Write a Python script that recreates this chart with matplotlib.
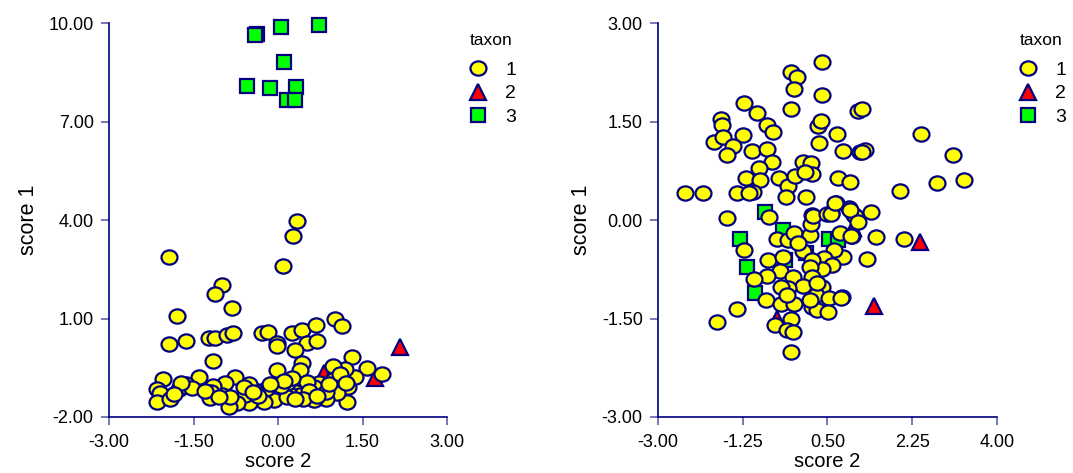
import matplotlib.pyplot as plt
from matplotlib.lines import Line2D
from matplotlib.path import Path

plt.rcParams['font.family'] = ['Liberation Sans', 'DejaVu Sans']

# ---- left panel: score 2 (x) vs score 1 (y) ----
left_t1_x = [-1.935, 0.08, 0.27, 0.34, -0.99, -1.11, -0.82, -1.79, -1.935, -1.64, -1.22, -1.12,
             -0.91, -0.80, -1.15, -0.29, -0.18, -0.02, -0.01, 0.24, 0.42, 0.52, 0.70, 0.675,
             0.30, 0.42, 0.39, -0.02, 1.02, 1.13, 1.32, 1.575, 1.84, 1.37, 1.19, 1.04, 0.98,
             1.25, 1.23, 1.04, 0.85, 0.63, 0.73, 0.63, 0.51, 0.32, 0.39, 0.195, 0.165, -0.02,
             -0.08, -0.21, -0.25, -0.42, -0.515, -0.515, -0.59, -0.72, -0.87, -0.76, -0.94,
             -1.0, -1.15, -1.19, -1.21, -1.41, -1.64, -1.76, -1.68, -1.53, -2.05, -2.14, -2.09,
             -2.15, -1.92, -1.72, -0.85, 0.86, 0.98, 0.155, 0.05, 0.25, 0.55, 0.90, 1.10,
             -0.35, -0.60, -1.30, -1.85, 0.45, 0.10, -0.15, 0.70, 1.20, -1.05, -0.45, 0.30]
left_t1_y = [2.88, 2.61, 3.53, 3.98, 2.03, 1.76, 1.32, 1.08, 0.23, 0.32, 0.42, 0.40,
             0.50, 0.56, -0.28, 0.575, 0.59, 0.25, 0.15, 0.56, 0.64, 0.27, 0.33, 0.81,
             0.05, -0.36, -0.57, -0.565, 0.98, 0.78, -0.18, -0.51, -0.69, -0.77, -0.54, -0.77, -0.46,
             -1.09, -1.55, -1.26, -1.46, -1.48, -0.97, -1.09, -0.92, -1.23, -1.33, -1.30, -0.95, -1.23,
             -1.48, -1.15, -1.55, -1.18, -1.56, -0.99, -1.33, -1.58, -1.69, -0.79, -0.95,
             -1.33, -1.07, -1.23, -1.43, -0.77, -0.99, -1.15, -1.07, -1.12, -0.85, -1.15, -1.28,
             -1.53, -1.45, -0.97, -1.38, -1.23, -0.87, -1.38, -1.05, -0.80, -1.20, -1.00, -0.70,
             -1.35, -1.10, -1.20, -1.30, -1.45, -0.90, -1.00, -1.35, -0.95, -1.40, -1.25, -1.45]

left_t2_x = [2.166, 1.72, 0.817, 0.066]
left_t2_y = [0.146, -0.82, -0.667, -0.87]

left_t3_x = [-0.378, -0.41, 0.048, 0.728, 0.112, -0.556, -0.142, 0.325, 0.166, 0.296]
left_t3_y = [9.69, 9.66, 9.90, 9.94, 8.82, 8.08, 8.04, 8.06, 7.67, 7.67]

# ---- right panel ----
right_t1_x = [0.395, -0.26, -0.13, -0.20, 0.395, -0.26, -1.22, -0.96, -0.74, -0.62, -1.70, -1.68,
              -1.84, -1.65, -1.25, -1.46, -1.58, -1.06, -0.74, -0.64, -0.91, -1.19, -0.89, -0.51,
              -0.31, -0.17, -0.36, 0.06, -2.44, -2.08, -1.37, -1.04, -1.12, 0.0, 0.16, 0.18, 0.04,
              0.71, 0.97, 0.82, 0.31, 0.36, 0.33, 0.69, 1.12, 1.17, 0.68, 0.95, 0.57, 1.04, 0.19,
              -0.70, -1.58, 1.21, 2.43, 3.10, 3.31, 2.77, 2.0, 1.28, 1.21, 1.39, 1.07, 0.97, 1.13,
              1.0, 1.50, 2.08, 1.31, 0.83, 0.80, -1.22, -0.55, -0.32, -0.20, 0.0, 0.13, 0.15, 0.20,
              0.49, 0.575, 0.66, 0.75, 0.99, 0.64, 0.43, 0.59, 0.38, 0.18, 0.13, 0.18, 0.38, 0.26,
              0.53, 0.77, 0.18, 0.29, 0.51, 0.14, -0.72, -0.42, -0.49, -0.74, -1.02, -0.22, -0.01,
              -0.32, -0.45, -0.77, -0.45, -0.20, -0.34, -1.37, -1.79, -0.26, -0.58, -0.34, -0.22,
              -0.26, 0.28, -0.10]
right_t1_y = [2.42, 2.26, 2.18, 2.0, 1.91, 1.70, 1.79, 1.63, 1.45, 1.35, 1.54, 1.45,
              1.20, 1.27, 1.30, 1.13, 1.0, 1.06, 1.08, 0.89, 0.80, 0.65, 0.62, 0.645,
              0.52, 0.67, 0.36, 0.36, 0.41, 0.41, 0.42, 0.43, 0.42, 0.89, 0.87, 0.71, 0.74,
              0.645, 0.58, 1.05, 1.44, 1.52, 1.18, 1.32, 1.66, 1.04, 0.27, 0.18, 0.11, 0.08, 0.08,
              0.05, 0.03, 1.70, 1.32, 1.0, 0.62, 0.575, 0.45, 1.07, 1.04, 0.13, 0.07, 0.15, -0.02,
              -0.24, -0.25, -0.29, -0.59, -0.56, -1.17, -0.455, -0.29, -0.30, -0.20, -0.47, -0.23, -0.06, 0.06,
              0.09, 0.10, 0.26, -0.19, -0.24, -0.455, -0.57, -0.69, -0.74, -0.61, -0.71, -0.87, -1.02, -1.14,
              -1.18, -1.18, -1.32, -1.37, -1.40, -1.22, -0.61, -0.56, -0.77, -0.85, -0.90, -0.86, -1.0,
              -1.04, -1.02, -1.21, -1.27, -1.27, -1.14, -1.36, -1.55, -1.51, -1.60, -1.67, -1.71,
              -2.01, -0.96, -0.35]

right_t2_x = [2.41, 1.47, -0.55, 1.03]
right_t2_y = [-0.338, -1.31, -1.51, -0.125]

right_t3_x = [-0.80, -1.31, -1.16, -1.0, -0.42, -0.37, 0.54, 0.72, 0.05]
right_t3_y = [0.13, -0.29, -0.71, -1.11, -0.15, -0.61, -0.29, -0.30, -0.50]

navy = '#000080'
tickc = '#6060a8'

# slightly wide ellipse, like the original circles
_c = Path.unit_circle()
ellipse = Path(_c.vertices * [1.12, 1.0], _c.codes)

fig = plt.figure(figsize=(10.73, 4.73), dpi=100)
ax1 = fig.add_axes([0.1016, 0.1184, 0.315, 0.832])
ax2 = fig.add_axes([0.6132, 0.1184, 0.316, 0.832])

t1_style = dict(marker=ellipse, ms=11.5, mfc='#ffff00', mec=navy, mew=1.6, ls='none')
t2_style = dict(marker='^', ms=11, mfc='#ff0000', mec=navy, mew=1.6, ls='none')
t3_style = dict(marker='s', ms=9.5, mfc='#00ff00', mec=navy, mew=1.6, ls='none')


def draw(ax, t1x, t1y, t2x, t2y, t3x, t3y):
    ax.plot(t3x, t3y, zorder=3, clip_on=False, **t3_style)
    ax.plot(t2x, t2y, zorder=3, clip_on=False, **t2_style)
    ax.plot(t1x, t1y, zorder=4, clip_on=False, **t1_style)
    for s in ['top', 'right']:
        ax.spines[s].set_visible(False)
    for s in ['left', 'bottom']:
        ax.spines[s].set_color(navy)
        ax.spines[s].set_linewidth(1.2)
    ax.tick_params(axis='both', direction='out', length=6, width=1.2, color=tickc,
                   labelsize=13)
    ax.tick_params(axis='y', pad=5)
    ax.tick_params(axis='x', pad=6)
    ax.set_xlabel('score 2', fontsize=14.5, labelpad=1)
    ax.set_ylabel('score 1', fontsize=15.5, labelpad=7)
    handles = [Line2D([], [], **t1_style), Line2D([], [], **t2_style), Line2D([], [], **t3_style)]
    leg = ax.legend(handles, ['1', '2', '3'], loc='upper left', bbox_to_anchor=(1.005, 1.02),
                    frameon=False, title='taxon', fontsize=14, title_fontsize=12.5,
                    handletextpad=0.8, labelspacing=0.3, handlelength=1.2)
    leg.get_title().set_color('black')
    leg._legend_box.sep = 9.5  # a bit more room under the title


draw(ax1, left_t1_x, left_t1_y, left_t2_x, left_t2_y, left_t3_x, left_t3_y)
ax1.set_xlim(-3, 3)
ax1.set_ylim(-2, 10)
ax1.set_xticks([-3, -1.5, 0, 1.5, 3])
ax1.set_yticks([-2, 1, 4, 7, 10])
ax1.xaxis.set_major_formatter(plt.FormatStrFormatter('%.2f'))
ax1.yaxis.set_major_formatter(plt.FormatStrFormatter('%.2f'))

draw(ax2, right_t1_x, right_t1_y, right_t2_x, right_t2_y, right_t3_x, right_t3_y)
ax2.set_xlim(-3, 4)
ax2.set_ylim(-3, 3)
ax2.set_xticks([-3, -1.25, 0.5, 2.25, 4])
ax2.set_yticks([-3, -1.5, 0, 1.5, 3])
ax2.xaxis.set_major_formatter(plt.FormatStrFormatter('%.2f'))
ax2.yaxis.set_major_formatter(plt.FormatStrFormatter('%.2f'))

fig.savefig('out.png', dpi=100)
